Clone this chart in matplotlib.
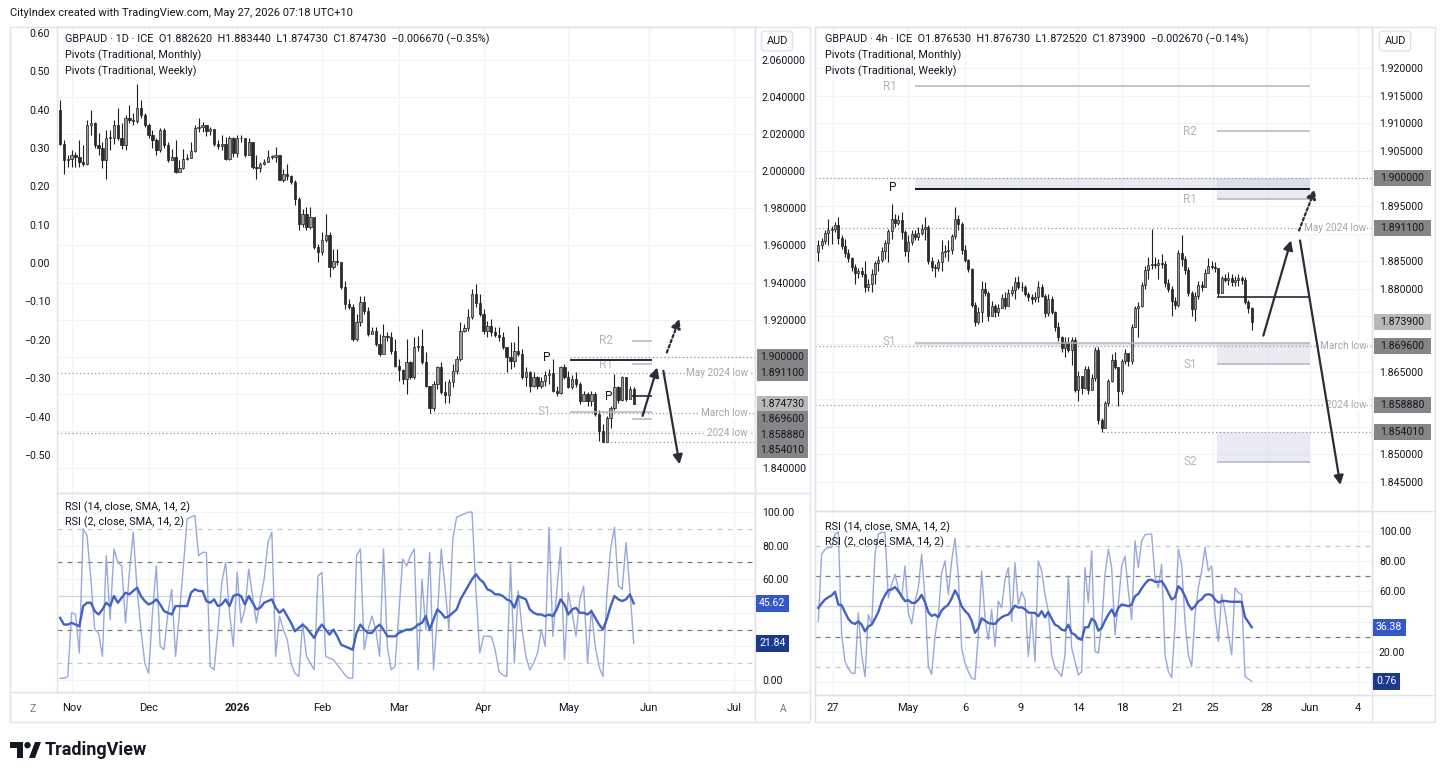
"""
GBPAUD daily + 4h side-by-side TradingView-style chart with pivots and RSI panes.
"""

import numpy as np
import pandas as pd
import matplotlib
matplotlib.use("Agg")
import matplotlib.pyplot as plt
import matplotlib.transforms as mtransforms
from matplotlib.patches import Rectangle, Circle, Polygon
from matplotlib.ticker import FuncFormatter

plt.rcParams["font.family"] = ["Roboto", "DejaVu Sans"]

# ---------------- daily (left) data ----------------
d_first_open = 2.0330
d_close = [
    2.0150, 2.0059, 2.0068, 2.0086, 2.0077, 2.0050, 2.0038, 2.0249, 2.0258, 2.0141,
    2.0128, 2.0059, 2.0182, 2.0182, 2.0249, 2.0182, 2.0141, 2.0290, 2.0276, 2.0270,
    2.0339, 2.0303, 2.0249, 2.0195, 2.0168, 2.0114, 2.0222, 2.0141, 2.0059, 2.0077,
    1.9996, 2.0020, 2.0068, 2.0074, 2.0110, 2.0231, 2.0240, 2.0249, 2.0218, 2.0227,
    2.0150, 2.0135, 2.0146, 2.0068, 2.0177, 2.0099, 2.0177, 2.0182, 2.0086, 2.0159,
    2.0023, 2.0020, 2.0041, 2.0049, 2.0077, 2.0077, 2.0086, 1.9951, 1.9987, 1.9973,
    1.9942, 1.9852, 1.9717, 1.9771, 1.9699, 1.9753, 1.9591, 1.9564, 1.9627, 1.9654,
    1.9483, 1.9515, 1.9512, 1.9375, 1.9285, 1.9270, 1.9096, 1.9186, 1.9294, 1.9245,
    1.9123, 1.9137, 1.9068, 1.9014, 1.9114, 1.9105, 1.9029, 1.8951, 1.8928, 1.8879,
    1.8969, 1.8892, 1.9050, 1.9058, 1.8969, 1.8843, 1.8726, 1.8852, 1.8942, 1.8807,
    1.8793, 1.8861, 1.8924, 1.8987, 1.9141, 1.9155, 1.9213, 1.9339, 1.9288, 1.9231,
    1.9141, 1.9168, 1.9132, 1.9119, 1.9105, 1.9050, 1.8996, 1.8978, 1.9032, 1.9014,
    1.8888, 1.8915, 1.8843, 1.8888, 1.8843, 1.8870, 1.8903, 1.8910, 1.8816, 1.8802,
    1.8942, 1.8892, 1.8838, 1.8879, 1.8852, 1.8762, 1.8798, 1.8759, 1.8798, 1.8690,
    1.8600, 1.8542, 1.8672, 1.8726, 1.8834, 1.8766, 1.8888, 1.8771, 1.8826, 1.87473,
]
d_high = [
    2.0387, 2.0168, 2.0086, 2.0114, 2.0105, 2.0168, 2.0141, 2.0276, 2.0333, 2.0267,
    2.0204, 2.0159, 2.0222, 2.0222, 2.0276, 2.0339, 2.0258, 2.0303, 2.0357, 2.0312,
    2.0470, 2.0387, 2.0312, 2.0258, 2.0222, 2.0177, 2.0231, 2.0231, 2.0159, 2.0123,
    2.0168, 2.0059, 2.0123, 2.0095, 2.0159, 2.0249, 2.0285, 2.0267, 2.0249, 2.0240,
    2.0222, 2.0168, 2.0195, 2.0186, 2.0189, 2.0186, 2.0195, 2.0195, 2.0177, 2.0177,
    2.0159, 2.0086, 2.0050, 2.0068, 2.0114, 2.0086, 2.0132, 2.0086, 2.0014, 2.0041,
    1.9978, 1.9951, 1.9861, 1.9798, 1.9807, 1.9807, 1.9753, 1.9609, 1.9672, 1.9771,
    1.9672, 1.9582, 1.9582, 1.9510, 1.9411, 1.9312, 1.9285, 1.9231, 1.9330, 1.9330,
    1.9267, 1.9159, 1.9159, 1.9123, 1.9177, 1.9132, 1.9132, 1.9096, 1.8987, 1.8933,
    1.9096, 1.8978, 1.9105, 1.9114, 1.9150, 1.9023, 1.8843, 1.8870, 1.8951, 1.8969,
    1.8870, 1.8879, 1.8960, 1.9005, 1.9186, 1.9177, 1.9258, 1.9366, 1.9393, 1.9339,
    1.9258, 1.9195, 1.9204, 1.9159, 1.9159, 1.9132, 1.9050, 1.9078, 1.9078, 1.9168,
    1.9041, 1.8942, 1.8924, 1.8915, 1.8897, 1.8888, 1.8924, 1.8933, 1.8987, 1.8843,
    1.8951, 1.8960, 1.8924, 1.8903, 1.8915, 1.8861, 1.8816, 1.8807, 1.8816, 1.8807,
    1.8712, 1.8636, 1.8681, 1.8735, 1.8906, 1.8843, 1.8897, 1.8888, 1.8843, 1.88344,
]
d_low = [
    2.0141, 1.9987, 2.0023, 2.0023, 2.0023, 2.0023, 2.0027, 2.0032, 2.0195, 2.0128,
    2.0086, 2.0020, 1.9960, 2.0117, 2.0150, 2.0168, 2.0123, 2.0117, 2.0258, 2.0249,
    2.0261, 2.0285, 2.0240, 2.0177, 2.0128, 2.0090, 2.0105, 2.0128, 2.0050, 2.0059,
    1.9991, 2.0005, 2.0014, 2.0059, 2.0086, 2.0105, 2.0213, 2.0213, 2.0189, 2.0195,
    2.0135, 2.0123, 2.0117, 2.0059, 2.0063, 2.0077, 2.0077, 2.0159, 2.0077, 2.0086,
    2.0014, 1.9960, 1.9996, 2.0032, 2.0050, 2.0068, 2.0050, 1.9951, 1.9942, 1.9951,
    1.9933, 1.9816, 1.9681, 1.9699, 1.9681, 1.9690, 1.9582, 1.9510, 1.9546, 1.9618,
    1.9429, 1.9474, 1.9492, 1.9366, 1.9258, 1.9258, 1.9087, 1.9087, 1.9168, 1.9231,
    1.9114, 1.9123, 1.9059, 1.9005, 1.9014, 1.9087, 1.9014, 1.8942, 1.8870, 1.8852,
    1.8798, 1.8879, 1.8879, 1.9032, 1.8960, 1.8834, 1.8696, 1.8708, 1.8825, 1.8798,
    1.8753, 1.8753, 1.8834, 1.8906, 1.8978, 1.9132, 1.9141, 1.9204, 1.9267, 1.9222,
    1.9123, 1.9105, 1.9114, 1.9105, 1.9087, 1.9041, 1.8915, 1.8933, 1.8942, 1.9005,
    1.8879, 1.8843, 1.8807, 1.8834, 1.8825, 1.8831, 1.8843, 1.8852, 1.8807, 1.8789,
    1.8798, 1.8879, 1.8831, 1.8825, 1.8834, 1.8744, 1.8771, 1.8735, 1.8735, 1.8681,
    1.8546, 1.8540, 1.8548, 1.8618, 1.8712, 1.8753, 1.8762, 1.8762, 1.8780, 1.87473,
]
d_rsi14 = [
    37, 33, 33, 34, 33, 32, 44, 46, 46, 41, 39, 42, 46, 44, 50, 46, 49, 52, 51, 53,
    55, 50, 47, 45, 46, 48, 45, 41, 40, 39, 44, 44, 44, 44, 52, 54, 53, 53, 47, 46,
    48, 44, 45, 48, 44, 50, 51, 50, 45, 50, 46, 42, 43, 46, 47, 48, 43, 40, 42, 38,
    34, 29, 31, 33, 31, 28, 25, 30, 33, 30, 27, 30, 26, 21, 20, 19, 18, 28, 33, 30,
    28, 28, 31, 33, 30, 26, 26, 26, 28, 29, 30, 30, 31, 33, 34, 38, 30, 36, 42, 40,
    37, 38, 40, 42, 48, 52, 56, 60, 63, 60, 58, 54, 53, 51, 51, 50, 48, 47, 43, 50,
    49, 48, 42, 40, 39, 39, 38, 39, 38, 42, 48, 45, 39, 42, 43, 40, 40, 39, 41, 37,
    33, 30, 36, 44, 50, 48, 47, 48, 51, 45.62,
]
d_rsi2 = [
    1, 1, 2, 40, 39, 16, 90, 86, 60, 30, 28, 14, 74, 36, 78, 70, 68, 34, 64, 88,
    54, 30, 10, 4, 40, 68, 20, 18, 40, 54, 14, 40, 67, 96, 97, 98, 74, 76, 76, 8,
    6, 30, 58, 70, 40, 20, 64, 34, 42, 66, 50, 34, 48, 60, 82, 88, 14, 38, 30, 24,
    10, 4, 2, 34, 14, 10, 6, 62, 64, 14, 13, 12, 9, 6, 3, 1, 1, 74, 78, 18,
    30, 38, 30, 14, 78, 20, 6, 8, 40, 72, 68, 74, 78, 6, 60, 30, 76, 6, 38, 78,
    55, 30, 84, 97, 98, 99, 100, 100, 54, 16, 26, 26, 26, 18, 5, 3, 2, 69, 10, 53,
    30, 14, 6, 10, 16, 30, 20, 91, 26, 52, 79, 12, 52, 40, 26, 48, 56, 10, 42, 20,
    8, 2, 50, 78, 91, 56, 54, 82, 54, 21.84,
]

# ---------------- 4h (right) data ----------------
h_first_open = 1.88665
h_close = [
    1.88786, 1.88864, 1.89010, 1.89070, 1.89088, 1.89149, 1.88925, 1.88768, 1.88646, 1.88562,
    1.88404, 1.88283, 1.88320, 1.88271, 1.88029, 1.88089, 1.88271, 1.88465, 1.88525, 1.88683,
    1.88828, 1.89046, 1.89270, 1.89191, 1.89240, 1.89028, 1.88683, 1.88846, 1.88998, 1.88937,
    1.89010, 1.89088, 1.89119, 1.88501, 1.88404, 1.88380, 1.88483, 1.88665, 1.88683, 1.88695,
    1.88949, 1.89270, 1.89179, 1.88695, 1.88525, 1.88362, 1.87714, 1.87394, 1.87575, 1.87999,
    1.87920, 1.87515, 1.87696, 1.87575, 1.87654, 1.87836, 1.87696, 1.87920, 1.87981, 1.88120,
    1.88041, 1.88029, 1.87908, 1.87848, 1.87817, 1.87860, 1.88041, 1.87878, 1.87557, 1.87817,
    1.87575, 1.87315, 1.87133, 1.86921, 1.87030, 1.86891, 1.87073, 1.86165, 1.86425, 1.86201,
    1.86546, 1.86165, 1.86383, 1.86891, 1.85620, 1.85487, 1.85923, 1.86322, 1.86710, 1.86589,
    1.86141, 1.86685, 1.86831, 1.86697, 1.87315, 1.87654, 1.87696, 1.88077, 1.88344, 1.88441,
    1.88453, 1.88441, 1.88465, 1.88453, 1.88102, 1.87999, 1.87775, 1.87714, 1.88646, 1.88544,
    1.88344, 1.87920, 1.87636, 1.87878, 1.88077, 1.88029, 1.88283, 1.88422, 1.88404, 1.88380,
    1.87920, 1.88199, 1.88162, 1.88199, 1.88120, 1.88162, 1.88199, 1.88162, 1.87757, 1.87653,
    1.87390,
]
h_high = [
    1.88876, 1.88925, 1.89058, 1.89270, 1.89131, 1.89209, 1.89300, 1.88967, 1.88907, 1.88725,
    1.88574, 1.88453, 1.88380, 1.88404, 1.88513, 1.88180, 1.88362, 1.88513, 1.88604, 1.88755,
    1.88876, 1.89088, 1.89542, 1.89361, 1.89330, 1.89391, 1.89058, 1.88967, 1.89058, 1.89058,
    1.89119, 1.89179, 1.89300, 1.89149, 1.88574, 1.88453, 1.88544, 1.88876, 1.88786, 1.88876,
    1.88998, 1.89482, 1.89330, 1.89209, 1.88786, 1.88544, 1.88380, 1.87757, 1.87666, 1.88150,
    1.88120, 1.87969, 1.87787, 1.87727, 1.87727, 1.87908, 1.87938, 1.87999, 1.88059, 1.88211,
    1.88241, 1.88120, 1.88077, 1.87938, 1.87908, 1.87938, 1.88150, 1.88089, 1.87908, 1.87908,
    1.87878, 1.87605, 1.87394, 1.87151, 1.87121, 1.87133, 1.87133, 1.87121, 1.86516, 1.86274,
    1.86607, 1.86607, 1.86455, 1.86940, 1.86940, 1.85668, 1.85971, 1.86365, 1.86818, 1.86849,
    1.86516, 1.86728, 1.86909, 1.86818, 1.87363, 1.87696, 1.87757, 1.88120, 1.88422, 1.88574,
    1.89088, 1.88574, 1.88544, 1.88634, 1.88513, 1.88180, 1.88059, 1.87848, 1.88695, 1.88967,
    1.88604, 1.88392, 1.87969, 1.87938, 1.88150, 1.88150, 1.88362, 1.88562, 1.88513, 1.88483,
    1.88120, 1.88241, 1.88271, 1.88301, 1.88271, 1.88241, 1.88271, 1.88241, 1.88211, 1.87799,
    1.87673,
]
h_low = [
    1.88513, 1.88725, 1.88816, 1.88786, 1.88816, 1.89028, 1.88816, 1.88725, 1.88586, 1.88483,
    1.88332, 1.88089, 1.88199, 1.88211, 1.87938, 1.87969, 1.87938, 1.88089, 1.88332, 1.88483,
    1.88544, 1.88483, 1.88907, 1.89119, 1.89149, 1.88907, 1.88604, 1.88483, 1.88786, 1.88876,
    1.88889, 1.88967, 1.88876, 1.88453, 1.88332, 1.88211, 1.88332, 1.88332, 1.88586, 1.88513,
    1.88634, 1.88907, 1.89058, 1.88634, 1.88483, 1.88301, 1.87666, 1.87333, 1.87363, 1.87394,
    1.87878, 1.87424, 1.87575, 1.87484, 1.87515, 1.87666, 1.87636, 1.87757, 1.87878, 1.87817,
    1.87999, 1.87969, 1.87878, 1.87787, 1.87727, 1.87757, 1.87757, 1.87848, 1.87484, 1.87515,
    1.87545, 1.87242, 1.87061, 1.86849, 1.86758, 1.86849, 1.86625, 1.86122, 1.85971, 1.86092,
    1.86183, 1.86092, 1.86183, 1.86334, 1.85547, 1.85401, 1.85547, 1.85880, 1.86304, 1.86546,
    1.85880, 1.86092, 1.86637, 1.86607, 1.86637, 1.87303, 1.87121, 1.87666, 1.87999, 1.88180,
    1.88362, 1.88380, 1.88180, 1.88380, 1.88029, 1.87938, 1.87515, 1.87636, 1.87666, 1.88422,
    1.88271, 1.87878, 1.87515, 1.87424, 1.87817, 1.87969, 1.88120, 1.88301, 1.88362, 1.88301,
    1.87878, 1.88059, 1.88120, 1.88077, 1.88059, 1.88059, 1.88059, 1.88089, 1.87727, 1.87557,
    1.87252,
]
h_rsi14 = [
    49.1, 52.0, 54.6, 56.1, 57.3, 59.7, 51.3, 50.8, 46.2, 41.8,
    39.4, 38.5, 40.2, 38.0, 33.6, 36.9, 38.0, 42.0, 46.4, 53.1,
    57.5, 60.8, 61.2, 62.8, 60.1, 56.8, 53.5, 54.2, 52.4, 52.4,
    54.4, 57.7, 52.8, 46.2, 43.8, 44.7, 42.9, 47.5, 49.5, 51.3,
    55.3, 60.6, 56.6, 50.0, 47.1, 44.9, 40.7, 32.7, 35.8, 42.2,
    40.7, 39.1, 38.7, 38.5, 41.1, 42.9, 44.0, 44.7, 47.5, 50.6,
    49.3, 49.5, 48.2, 46.0, 45.8, 45.8, 43.6, 46.9, 42.9, 46.4,
    42.0, 38.0, 36.9, 34.7, 34.1, 38.0, 32.5, 31.4, 28.8, 28.1,
    36.3, 36.3, 42.0, 40.2, 34.1, 35.8, 40.7, 44.7, 48.0, 43.6,
    49.1, 51.3, 50.8, 50.2, 51.3, 56.8, 58.3, 61.9, 65.0, 67.4,
    67.6, 66.3, 66.3, 66.7, 63.4, 59.0, 54.6, 56.1, 63.4, 61.2,
    56.8, 51.3, 48.0, 50.2, 53.3, 54.8, 57.5, 58.1, 57.5, 54.6,
    52.6, 53.5, 53.7, 53.3, 53.1, 53.1, 53.1, 53.1, 42.9, 39.8,
    36.38,
]
h_rsi2 = [
    40.2, 84.4, 87.7, 88.8, 88.8, 97.7, 99.0, 31.4, 13.7, 9.3,
    6.0, 6.0, 45.8, 18.2, 3.8, 44.7, 38.0, 84.4, 97.7, 98.8,
    98.8, 55.7, 64.5, 71.2, 61.9, 55.7, 76.7, 45.8, 38.5, 53.5,
    62.3, 84.4, 55.7, 10.4, 5.4, 30.3, 44.7, 72.3, 80.0, 57.9,
    80.0, 95.0, 70.1, 22.6, 12.6, 7.1, 2.7, 2.0, 31.4, 73.4,
    42.4, 28.1, 48.0, 23.7, 53.5, 49.1, 67.8, 75.6, 40.2, 78.9,
    51.3, 59.7, 54.6, 17.1, 44.7, 13.7, 80.0, 73.4, 57.9, 46.9,
    18.2, 9.3, 7.1, 3.8, 18.2, 70.1, 22.6, 13.7, 4.9, 7.1,
    75.6, 52.4, 86.6, 20.4, 19.3, 38.0, 71.2, 87.7, 75.6, 31.4,
    51.3, 76.7, 83.3, 60.1, 41.3, 93.2, 75.6, 93.2, 97.2, 97.7,
    97.7, 69.0, 62.3, 77.8, 18.2, 7.1, 3.1, 38.0, 87.7, 77.8,
    40.2, 18.2, 10.4, 44.7, 62.3, 73.4, 88.8, 73.4, 76.7, 44.7,
    27.0, 57.9, 46.9, 31.4, 18.2, 62.3, 59.0, 57.9, 3.8, 2.3,
    0.76,
]
h_tick_labels = ["27", "May", "6", "9", "14", "18", "21", "25", "28", "Jun", "4"]

# key levels
monthly_pivots = {"R1": 1.91673, "P": 1.89815, "S1": 1.87019}
weekly_pivots = {"R2": 1.90856, "R1": 1.89621, "P": 1.87860, "S1": 1.86634, "S2": 1.84864}
levels = {"round": 1.90000, "May 2024 low": 1.89110, "March low": 1.86960,
          "2024 low": 1.85888, "May low": 1.85401}

# ---------------- style ----------------
W, H = 1440, 779
TEXT = "#131722"
GRID = "#f2f3f7"
BORDER = "#e0e3eb"
PIV_GRAY = "#b2b5be"
DOT = "#9598a1"
UP_FILL = "#9a9a9a"
DOWN_FILL = "#2b2b2b"
EDGE = "#1f1f1f"
RSI14_C = "#4262c4"
RSI2_C = "#8d9fd6"
ARROW_C = "#2a2e39"
TAG_DARK = "#858585"
TAG_LIGHT = "#b9b9b9"
FS = 7.6


def px_axes(fig, x0, y0, x1, y1):
    return fig.add_axes([x0 / W, 1 - y1 / H, (x1 - x0) / W, (y1 - y0) / H])


def style_pane(ax):
    ax.set_facecolor("white")
    for s in ax.spines.values():
        s.set_color(BORDER)
        s.set_linewidth(1)
    ax.grid(True, color=GRID, lw=0.9)
    ax.set_axisbelow(True)
    ax.yaxis.tick_right()
    ax.tick_params(length=0, labelsize=FS, colors=TEXT, pad=5)


def draw_candles(ax, first_open, highs, lows, closes, width, min_body):
    c = np.array(closes)
    o = np.concatenate([[first_open], c[:-1]])
    h = np.maximum(np.array(highs), np.maximum(o, c))
    l = np.minimum(np.array(lows), np.minimum(o, c))
    x = np.arange(len(c))
    ax.vlines(x, l, h, color=EDGE, lw=0.8, zorder=3)
    up = c >= o
    body = np.maximum(np.abs(c - o), min_body)
    bottom = np.minimum(o, c)
    ax.bar(x[up], body[up], width, bottom=bottom[up], color=UP_FILL,
           edgecolor=EDGE, lw=0.5, zorder=4)
    ax.bar(x[~up], body[~up], width, bottom=bottom[~up], color=DOWN_FILL,
           edgecolor=EDGE, lw=0.5, zorder=4)


def to_px(ax, value):
    """Data value -> overlay pixel row (top-left origin)."""
    return H - ax.transData.transform((0, value))[1]


def axis_tags(ax, ov, items, fmt, x0, x1=None, gap=15.5, hide_px=12.5):
    """Price-scale value tags, pushed apart where they would overlap.
    Tick labels hidden behind a tag are blanked, as on the real scale."""
    items = sorted(items, key=lambda t: -t[0])
    rows, prev = [], None
    for value, fc, tc in items:
        y = to_px(ax, value)
        if prev is not None and y - prev < gap:
            y = prev + gap
        prev = y
        rows.append(y)
        if x1 is None:
            ov.text(x0 + 3, y, fmt.format(value), ha="left", va="center", fontsize=FS,
                    color=tc, zorder=30,
                    bbox=dict(boxstyle="square,pad=0.32", fc=fc, ec="none"))
        else:
            ov.add_patch(Rectangle((x0, y - 8), x1 - x0, 16, fc=fc, ec="none", zorder=29))
            ov.text((x0 + x1) / 2, y, fmt.format(value), ha="center", va="center",
                    fontsize=FS, color=tc, zorder=30)
    hidden = [t for t in ax.get_yticks()
              if any(abs(to_px(ax, t) - r) < hide_px for r in rows)]
    tick_fmt = ax.yaxis.get_major_formatter()
    ax.yaxis.set_major_formatter(FuncFormatter(
        lambda v, p: "" if any(abs(v - t) < 1e-9 for t in hidden) else tick_fmt(v, p)))


def dotted(ax, y, x0=None, x1=None):
    lo, hi = ax.get_xlim()
    ax.hlines(y, lo if x0 is None else x0, hi if x1 is None else x1,
              colors=DOT, linestyles=(0, (1, 2)), lw=0.9, zorder=2)


def level_note(ax, y, s):
    trans = mtransforms.blended_transform_factory(ax.transAxes, ax.transData)
    ax.text(0.99, y, s, transform=trans, ha="right", va="center", fontsize=7.2,
            color="#a3a6af", zorder=6,
            bbox=dict(boxstyle="square,pad=0.1", fc="white", ec="none"))


def arrow(ax, start, end, dotted_line=False):
    ax.annotate("", xy=end, xytext=start, annotation_clip=False, zorder=8,
                arrowprops=dict(arrowstyle="-|>,head_length=0.55,head_width=0.28",
                                color=ARROW_C, lw=1.6, shrinkA=0, shrinkB=0,
                                linestyle=(0, (1.2, 1.2)) if dotted_line else "-"))


def rsi_pane(ax, rsi14, rsi2, ylim):
    style_pane(ax)
    ax.set_ylim(*ylim)
    x = np.arange(len(rsi14))
    for lvl, col, ls in [(90, "#c8cad3", (0, (4, 4))), (70, "#787b86", (0, (4, 4))),
                         (50, "#d1d4dc", "-"), (30, "#787b86", (0, (4, 4))),
                         (10, "#c8cad3", (0, (4, 4)))]:
        ax.axhline(lvl, color=col, ls=ls, lw=0.9, zorder=1)
    ax.plot(x, rsi2, color=RSI2_C, lw=1.0, alpha=0.9, zorder=3)
    ax.plot(x, rsi14, color=RSI14_C, lw=1.7, zorder=4)
    ax.set_yticks(np.arange(0, 101, 20))
    ax.yaxis.set_major_formatter(FuncFormatter(lambda v, _: f"{v:.2f}"))


fig = plt.figure(figsize=(W / 100, H / 100), dpi=100)
fig.patch.set_facecolor("white")

# overlay in figure pixels for frame, tags, headers
ov = fig.add_axes([0, 0, 1, 1], zorder=20)
ov.set_xlim(0, W)
ov.set_ylim(H, 0)
ov.axis("off")
ov.patch.set_alpha(0)

# ================= left: daily =================
axL = px_axes(fig, 57, 27, 755, 493)
rsiL = px_axes(fig, 57, 493, 755, 692)
style_pane(axL)
dates = pd.bdate_range("2025-10-29", periods=185)
month_idx = [i for i in range(1, len(dates)) if dates[i].month != dates[i - 1].month]
month_lbl = [str(dates[i].year) if dates[i].month == 1 else dates[i].strftime("%b")
             for i in month_idx]

for ax in (axL, rsiL):
    ax.set_xlim(-0.8, 180.5)
axL.set_ylim(1.82649, 2.07784)
draw_candles(axL, d_first_open, d_high, d_low, d_close, 0.62, 0.0003)
axL.set_xticks(month_idx)
axL.tick_params(axis="x", labelbottom=False)
axL.set_yticks(np.round(np.arange(1.84, 2.0601, 0.02), 2))
axL.yaxis.set_major_formatter(FuncFormatter(lambda v, _: f"{v:.6f}"))

A_OFF, B_SCALE = 1.95047, 0.20687
sec = axL.secondary_yaxis("left", functions=(lambda p: (p - A_OFF) / B_SCALE,
                                             lambda v: A_OFF + B_SCALE * v))
sec.set_yticks(np.round(np.arange(-0.5, 0.61, 0.1), 2))
sec.yaxis.set_major_formatter(FuncFormatter(
    lambda v, _: "0.00" if abs(v) < 1e-9 else f"{v:.2f}".replace("-", "\u2212")))
sec.tick_params(length=0, labelsize=FS, colors=TEXT, pad=5)
sec.spines["left"].set_visible(False)

dotted(axL, levels["round"], x0=132.5)
dotted(axL, levels["May 2024 low"])
dotted(axL, levels["March low"], x0=96)
dotted(axL, levels["2024 low"])
dotted(axL, levels["May low"], x0=141)
level_note(axL, levels["May 2024 low"], "May 2024 low")
level_note(axL, levels["March low"], "March low")
level_note(axL, levels["2024 low"], "2024 low")

axL.hlines(monthly_pivots["P"], 132.5, 153.8, color=TEXT, lw=1.3, zorder=5)
axL.hlines(monthly_pivots["S1"], 132.5, 153.8, color=PIV_GRAY, lw=1.1, zorder=5)
axL.text(126.5, monthly_pivots["P"] + 0.0012, "P", ha="center", va="center",
         fontsize=8.5, color=TEXT)
axL.text(125.9, monthly_pivots["S1"], "S1", ha="center", va="center",
         fontsize=8.5, color=PIV_GRAY)
for k in ("R2", "R1", "P", "S1"):
    col = TEXT if k == "P" else PIV_GRAY
    axL.hlines(weekly_pivots[k], 148.6, 153.8, color=col, lw=1.1, zorder=5)
axL.text(141.8, weekly_pivots["R2"], "R2", ha="center", va="center", fontsize=8.5, color=PIV_GRAY)
axL.text(141.8, weekly_pivots["R1"] - 0.0006, "R1", ha="center", va="center",
         fontsize=8.5, color=PIV_GRAY)
axL.text(142.6, weekly_pivots["P"], "P", ha="center", va="center", fontsize=8.5, color=TEXT)

arrow(axL, (151.3, 1.8681), (155.1, 1.8942))
arrow(axL, (156.7, 1.8924), (160.9, 1.8420))
arrow(axL, (157.6, 1.9023), (160.9, 1.9204), dotted_line=True)

axis_tags(axL, ov, [(levels["round"], TAG_DARK, TEXT),
                    (levels["May 2024 low"], TAG_DARK, TEXT),
                    (d_close[-1], TAG_LIGHT, TEXT),
                    (levels["March low"], TAG_DARK, TEXT),
                    (levels["2024 low"], TAG_DARK, TEXT),
                    (levels["May low"], TAG_DARK, TEXT)], "{:.6f}", 757, 808)

rsi_pane(rsiL, d_rsi14, d_rsi2, (-7.2, 111.4))
rsiL.set_xticks(month_idx)
rsiL.set_xticklabels(month_lbl)
rsiL.tick_params(axis="x", pad=8, labelsize=8)
for t in rsiL.get_xticklabels():
    if t.get_text().isdigit():
        t.set_fontweight("bold")
axis_tags(rsiL, ov, [(d_rsi14[-1], "#3457c9", "white"), (d_rsi2[-1], "#1c3a8c", "white")],
          "{:.2f}", 756, gap=14, hide_px=11)

# ================= right: 4h =================
axR = px_axes(fig, 815, 27, 1372, 511)
rsiR = px_axes(fig, 815, 511, 1372, 695)
style_pane(axR)
h_tick_pos = [4.4, 26.9, 44.0, 60.8, 77.9, 91.1, 107.9, 118.4, 134.6, 147.5, 161.9]
for ax in (axR, rsiR):
    ax.set_xlim(-1.0, 166.1)
axR.set_ylim(1.83974, 1.92745)
draw_candles(axR, h_first_open, h_high, h_low, h_close, 0.62, 0.00012)
axR.set_xticks(h_tick_pos)
axR.tick_params(axis="x", labelbottom=False)
axR.set_yticks(np.round(np.arange(1.845, 1.9201, 0.005), 3))
axR.yaxis.set_major_formatter(FuncFormatter(lambda v, _: f"{v:.6f}"))

zone_c = "#c3c6db"
m0, w0, w1 = 29.0, 119.6, 147.4
for x0, y0, y1 in [(m0, monthly_pivots["P"], levels["round"]),
                   (w0, weekly_pivots["R1"], levels["round"]),
                   (m0, levels["March low"], monthly_pivots["S1"]),
                   (w0, weekly_pivots["S1"], monthly_pivots["S1"]),
                   (w0, weekly_pivots["S2"], levels["May low"])]:
    axR.add_patch(Rectangle((x0, y0), w1 - x0, y1 - y0, fc=zone_c, ec="none",
                            alpha=0.35, zorder=1))

dotted(axR, levels["round"])
dotted(axR, levels["May 2024 low"])
dotted(axR, levels["March low"])
dotted(axR, levels["2024 low"])
dotted(axR, levels["May low"], x0=85.4)
level_note(axR, levels["May 2024 low"], "May 2024 low")
level_note(axR, levels["March low"], "March low")
level_note(axR, levels["2024 low"], "2024 low")

axR.hlines(monthly_pivots["R1"], m0, w1, color=PIV_GRAY, lw=1.1, zorder=5)
axR.hlines(monthly_pivots["P"], m0, w1, color=TEXT, lw=1.4, zorder=5)
axR.hlines(monthly_pivots["S1"], m0, w1, color=PIV_GRAY, lw=1.1, zorder=5)
axR.text(21.5, monthly_pivots["R1"], "R1", ha="center", va="center", fontsize=8.5, color=PIV_GRAY)
axR.text(22.4, monthly_pivots["P"] + 0.0003, "P", ha="center", va="center", fontsize=8.5, color=TEXT)
axR.text(21.3, monthly_pivots["S1"] + 0.0002, "S1", ha="center", va="center", fontsize=8.5, color=PIV_GRAY)
for k in ("R2", "R1", "P", "S1", "S2"):
    col = TEXT if k == "P" else PIV_GRAY
    axR.hlines(weekly_pivots[k], w0, w1, color=col, lw=1.1, zorder=5)
    if k != "P":
        axR.text(111.6, weekly_pivots[k], k, ha="center", va="center",
                 fontsize=8.5, color=PIV_GRAY)

arrow(axR, (133.5, 1.87152), (141.8, 1.88877))
arrow(axR, (144.5, 1.88877), (156.6, 1.84446))
arrow(axR, (144.2, 1.89058), (149.0, 1.89803), dotted_line=True)

axis_tags(axR, ov, [(levels["round"], TAG_DARK, TEXT),
                    (levels["May 2024 low"], TAG_DARK, TEXT),
                    (h_close[-1], TAG_LIGHT, TEXT),
                    (levels["March low"], TAG_DARK, TEXT),
                    (levels["2024 low"], TAG_DARK, TEXT),
                    (levels["May low"], TAG_DARK, TEXT)], "{:.6f}", 1374, 1431)

rsi_pane(rsiR, h_rsi14, h_rsi2, (-8.3, 112.9))
rsiR.set_xticks(h_tick_pos)
rsiR.set_xticklabels(h_tick_labels)
rsiR.tick_params(axis="x", pad=6, labelsize=8)
axis_tags(rsiR, ov, [(h_rsi14[-1], "#3457c9", "white"), (h_rsi2[-1], "#1c3a8c", "white")],
          "{:.2f}", 1373, gap=14, hide_px=11)

# ================= frame, headers, logo =================
for x0, x1, xa in [(10, 810, 755), (815, 1435, 1372)]:
    ov.add_patch(Rectangle((x0, 27), x1 - x0, 695, fc="none", ec=BORDER, lw=1))
    ov.plot([xa, xa], [27, 722], color=BORDER, lw=1)
ov.plot([10, 810], [692, 692], color=BORDER, lw=1)
ov.plot([815, 1435], [695, 695], color=BORDER, lw=1)
ov.plot([57, 810], [493, 493], color=BORDER, lw=1)
ov.plot([815, 1435], [511, 511], color=BORDER, lw=1)

ov.text(10, 13, "CityIndex created with TradingView.com, May 27, 2026 07:18 UTC+10",
        fontsize=8, color=TEXT, va="center")
heads = [
    (65, "GBPAUD \u00b7 1D \u00b7 ICE  O1.882620  H1.883440  L1.874730  C1.874730  "
         "\u22120.006670 (\u22120.35%)", 507),
    (825, "GBPAUD \u00b7 4h \u00b7 ICE  O1.876530  H1.876730  L1.872520  C1.873900  "
          "\u22120.002670 (\u22120.14%)", 527),
]
for x, head, ry in heads:
    ov.text(x, 39, head, fontsize=7.8, color=TEXT, va="center")
    ov.text(x, 55, "Pivots (Traditional, Monthly)", fontsize=7.8, color=TEXT, va="center")
    ov.text(x, 71, "Pivots (Traditional, Weekly)", fontsize=7.8, color=TEXT, va="center")
    ov.text(x, ry, "RSI (14, close, SMA, 14, 2)", fontsize=7.8, color=TEXT, va="center")
    ov.text(x, ry + 15, "RSI (2, close, SMA, 14, 2)", fontsize=7.8, color=TEXT, va="center")

for x in (777, 1395):
    ov.text(x, 41, "AUD", fontsize=7.8, color=TEXT, va="center", ha="center",
            bbox=dict(boxstyle="round,pad=0.45,rounding_size=0.3", fc="white", ec=BORDER))
ov.text(33, 709, "Z", fontsize=7.5, color="#787b86", ha="center", va="center")
ov.text(783, 709, "A", fontsize=7.5, color="#787b86", ha="center", va="center")

# TradingView logo
ov.add_patch(Polygon([(10, 742), (23, 742), (23, 758), (17, 758), (17, 748), (10, 748)],
                     closed=True, fc=TEXT, ec="none"))
ov.add_patch(Circle((27.5, 745.2), 3.2, fc=TEXT, ec="none"))
ov.add_patch(Polygon([(29, 758), (35, 742), (41, 742), (35, 758)], closed=True,
                     fc=TEXT, ec="none"))
ov.text(45, 750, "TradingView", fontsize=13, fontweight="bold", color=TEXT, va="center")

fig.savefig("out.png", dpi=100, facecolor="white")
